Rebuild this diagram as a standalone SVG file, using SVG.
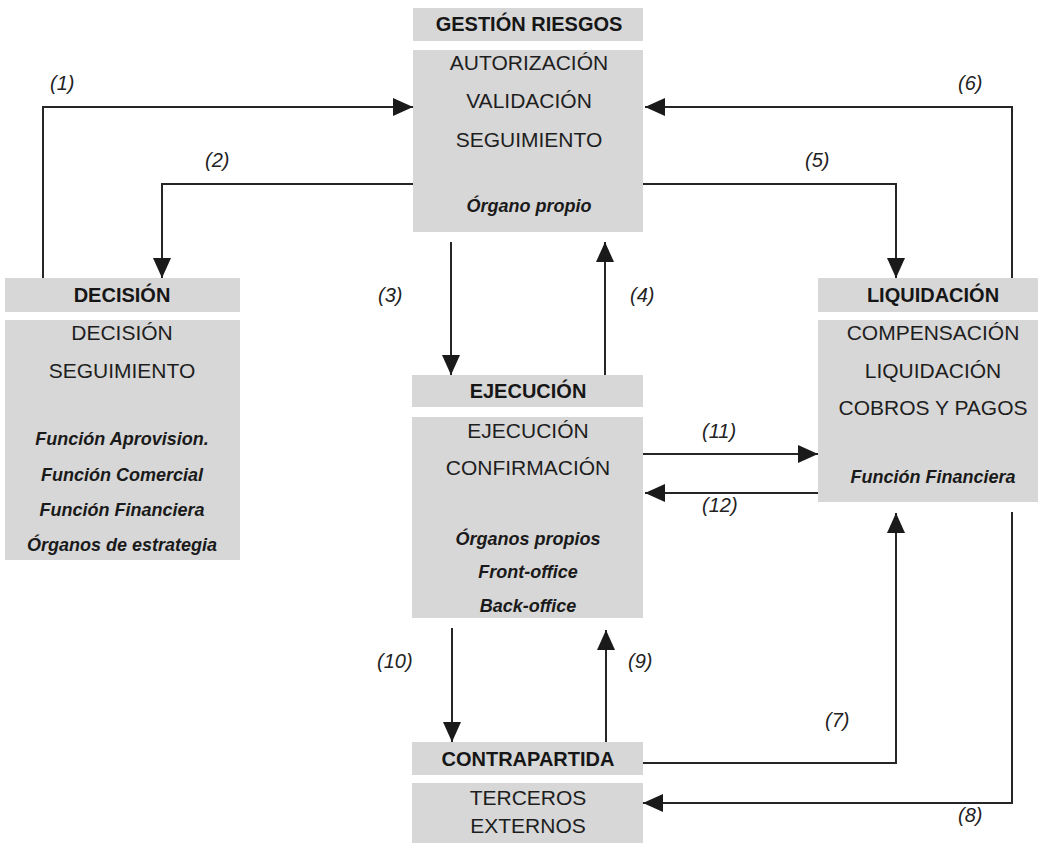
<svg xmlns="http://www.w3.org/2000/svg" width="1040" height="846" viewBox="0 0 1040 846">
  <style>
    .box { fill: #d7d7d7; }
    .hd { font-family: "Liberation Sans", Arial, sans-serif; font-weight: bold; font-size: 20px; fill: #161616; text-anchor: middle; }
    .tx { font-family: "Liberation Sans", Arial, sans-serif; font-size: 21px; fill: #1e1e1e; text-anchor: middle; }
    .it { font-family: "Liberation Sans", Arial, sans-serif; font-weight: bold; font-style: italic; font-size: 18px; fill: #1a1a1a; text-anchor: middle; }
    .lb { font-family: "Liberation Sans", Arial, sans-serif; font-style: italic; font-size: 20px; fill: #222; }
    .cn { fill: none; stroke: #262626; stroke-width: 2; marker-end: url(#ah); }
  </style>
  <defs>
    <marker id="ah" viewBox="0 0 20 18" refX="20" refY="9" markerWidth="20" markerHeight="18" markerUnits="userSpaceOnUse" orient="auto">
      <path d="M0,0 L20,9 L0,18 Z" fill="#1a1a1a"/>
    </marker>
  </defs>

  <rect width="1040" height="846" fill="#ffffff"/>

  <!-- connectors -->
  <g id="connectors">
    <path class="cn" d="M43,280 V107 H413"/>
    <path class="cn" d="M413,184 H162 V278"/>
    <path class="cn" d="M451,242 V375"/>
    <path class="cn" d="M605,375 V242"/>
    <path class="cn" d="M643,184 H896 V278"/>
    <path class="cn" d="M1012,278 V107 H645"/>
    <path class="cn" d="M643,763 H896 V513"/>
    <path class="cn" d="M1012,512 V803 H643"/>
    <path class="cn" d="M606,742 V630"/>
    <path class="cn" d="M452,628 V742"/>
    <path class="cn" d="M643,454 H818"/>
    <path class="cn" d="M818,493 H645"/>
  </g>

  <!-- connector labels -->
  <g id="labels">
    <text class="lb" x="50" y="90">(1)</text>
    <text class="lb" x="205" y="167">(2)</text>
    <text class="lb" x="378" y="302">(3)</text>
    <text class="lb" x="630" y="302">(4)</text>
    <text class="lb" x="805" y="167">(5)</text>
    <text class="lb" x="958" y="90">(6)</text>
    <text class="lb" x="825" y="727">(7)</text>
    <text class="lb" x="958" y="822">(8)</text>
    <text class="lb" x="628" y="668">(9)</text>
    <text class="lb" x="377" y="668">(10)</text>
    <text class="lb" x="702" y="438">(11)</text>
    <text class="lb" x="702" y="512">(12)</text>
  </g>

  <g id="gestion-riesgos">
    <rect class="box" x="413" y="8" width="230" height="33"/>
    <rect class="box" x="413" y="50" width="230" height="182"/>
    <text class="hd" x="529" y="31">GESTIÓN RIESGOS</text>
    <text class="tx" x="529" y="70">AUTORIZACIÓN</text>
    <text class="tx" x="529" y="108">VALIDACIÓN</text>
    <text class="tx" x="529" y="147">SEGUIMIENTO</text>
    <text class="it" x="529" y="212">Órgano propio</text>
  </g>

  <g id="decision">
    <rect class="box" x="5" y="278" width="235" height="34"/>
    <rect class="box" x="5" y="320" width="235" height="240"/>
    <text class="hd" x="122" y="302">DECISIÓN</text>
    <text class="tx" x="122" y="340">DECISIÓN</text>
    <text class="tx" x="122" y="378">SEGUIMIENTO</text>
    <text class="it" x="122" y="445">Función Aprovision.</text>
    <text class="it" x="122" y="481">Función Comercial</text>
    <text class="it" x="122" y="516">Función Financiera</text>
    <text class="it" x="122" y="551">Órganos de estrategia</text>
  </g>

  <g id="liquidacion">
    <rect class="box" x="818" y="278" width="220" height="34"/>
    <rect class="box" x="818" y="320" width="220" height="182"/>
    <text class="hd" x="933" y="302">LIQUIDACIÓN</text>
    <text class="tx" x="933" y="340">COMPENSACIÓN</text>
    <text class="tx" x="933" y="378">LIQUIDACIÓN</text>
    <text class="tx" x="933" y="415">COBROS Y PAGOS</text>
    <text class="it" x="933" y="483">Función Financiera</text>
  </g>

  <g id="ejecucion">
    <rect class="box" x="412" y="375" width="231" height="32"/>
    <rect class="box" x="412" y="417" width="231" height="201"/>
    <text class="hd" x="528" y="398">EJECUCIÓN</text>
    <text class="tx" x="528" y="438">EJECUCIÓN</text>
    <text class="tx" x="528" y="475">CONFIRMACIÓN</text>
    <text class="it" x="528" y="545">Órganos propios</text>
    <text class="it" x="528" y="578">Front-office</text>
    <text class="it" x="528" y="612">Back-office</text>
  </g>

  <g id="contrapartida">
    <rect class="box" x="412" y="742" width="231" height="33"/>
    <rect class="box" x="412" y="783" width="231" height="60"/>
    <text class="hd" x="528" y="766">CONTRAPARTIDA</text>
    <text class="tx" x="528" y="805">TERCEROS</text>
    <text class="tx" x="528" y="833">EXTERNOS</text>
  </g>
</svg>
